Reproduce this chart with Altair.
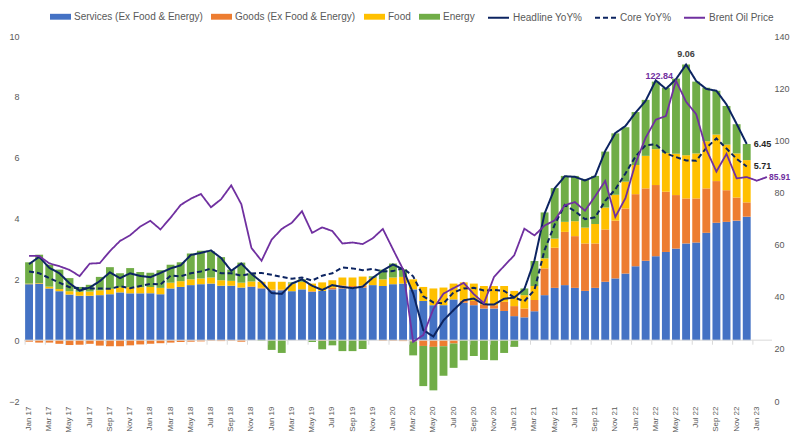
import altair as alt
import pandas as pd

mon = ["Jan", "Feb", "Mar", "Apr", "May", "Jun", "Jul", "Aug", "Sep", "Oct", "Nov", "Dec"]
months = [f"{m} {y}" for y in range(17, 24) for m in mon][:74]   # Jan 17 .. Feb 23
tick_months = months[::2]

components = ["Services (Ex Food & Energy)", "Goods (Ex Food & Energy)", "Food", "Energy"]
comp_colors = ["#4472C4", "#ED7D31", "#FFC000", "#70AD47"]

services = [
    1.84, 1.86, 1.70, 1.61, 1.50, 1.46, 1.46, 1.48, 1.51, 1.57, 1.54, 1.54,
    1.54, 1.51, 1.70, 1.75, 1.81, 1.84, 1.86, 1.79, 1.79, 1.73, 1.75, 1.70,
    1.64, 1.64, 1.61, 1.67, 1.59, 1.62, 1.67, 1.70, 1.70, 1.73, 1.81, 1.78,
    1.84, 1.86, 1.67, 1.29, 1.15, 1.15, 1.34, 1.23, 1.15, 1.04, 1.04, 0.96,
    0.79, 0.75, 0.95, 1.48, 1.72, 1.81, 1.72, 1.62, 1.72, 1.92, 2.03, 2.19,
    2.43, 2.61, 2.76, 2.90, 3.01, 3.18, 3.21, 3.53, 3.86, 3.89, 3.93, 4.06]
goods = [
    -0.05, -0.08, -0.08, -0.12, -0.16, -0.15, -0.12, -0.18, -0.20, -0.20, -0.17, -0.14,
    -0.12, -0.10, -0.08, -0.06, -0.05, -0.04, -0.02, -0.03, -0.02, -0.05, 0.02, 0.02,
    0.02, 0.02, 0.00, 0.00, 0.02, -0.02, 0.05, 0.10, 0.08, 0.06, 0.00, -0.02,
    -0.02, -0.03, -0.04, -0.19, -0.22, -0.20, -0.11, 0.07, 0.14, 0.14, 0.11, 0.30,
    0.33, 0.29, 0.37, 0.88, 1.32, 1.75, 1.70, 1.56, 1.46, 1.72, 1.90, 2.14,
    2.37, 2.38, 2.34, 1.98, 1.76, 1.48, 1.45, 1.46, 1.37, 1.04, 0.76, 0.47]
food = [
    0.02, 0.02, 0.06, 0.07, 0.11, 0.13, 0.14, 0.16, 0.18, 0.17, 0.20, 0.20,
    0.21, 0.21, 0.19, 0.19, 0.19, 0.19, 0.20, 0.18, 0.16, 0.16, 0.16, 0.20,
    0.26, 0.26, 0.25, 0.25, 0.25, 0.28, 0.25, 0.26, 0.28, 0.30, 0.24, 0.22,
    0.22, 0.22, 0.33, 0.46, 0.55, 0.58, 0.52, 0.60, 0.57, 0.60, 0.63, 0.52,
    0.50, 0.44, 0.46, 0.33, 0.30, 0.33, 0.49, 0.52, 0.64, 0.72, 0.85, 0.88,
    0.96, 1.07, 1.18, 1.27, 1.36, 1.42, 1.48, 1.55, 1.53, 1.50, 1.45, 1.39]
energy = [
    0.70, 0.93, 0.72, 0.64, 0.43, 0.16, 0.22, 0.44, 0.71, 0.46, 0.63, 0.50,
    0.47, 0.58, 0.59, 0.62, 0.85, 0.91, 0.86, 0.76, 0.37, 0.66, 0.27, -0.02,
    -0.32, -0.42, 0.04, 0.08, -0.06, -0.28, -0.17, -0.36, -0.36, -0.29, 0.05, 0.32,
    0.46, 0.25, -0.46, -1.32, -1.43, -0.97, -0.80, -0.66, -0.52, -0.65, -0.66, -0.42,
    -0.22, 0.22, 0.82, 1.51, 1.66, 1.51, 1.49, 1.60, 1.58, 1.84, 2.02, 1.79,
    1.74, 1.84, 2.22, 2.15, 2.47, 2.98, 2.36, 1.76, 1.44, 1.27, 0.96, 0.53]
headline = [
    2.50, 2.74, 2.38, 2.20, 1.87, 1.63, 1.73, 1.94, 2.23, 2.04, 2.20, 2.11,
    2.07, 2.21, 2.36, 2.46, 2.80, 2.87, 2.95, 2.70, 2.28, 2.52, 2.18, 1.91,
    1.55, 1.52, 1.86, 2.00, 1.79, 1.65, 1.81, 1.75, 1.71, 1.76, 2.05, 2.29,
    2.49, 2.33, 1.54, 0.33, 0.12, 0.65, 0.99, 1.31, 1.37, 1.18, 1.17, 1.36,
    1.40, 1.68, 2.62, 4.16, 4.99, 5.39, 5.37, 5.25, 5.39, 6.22, 6.81, 7.04,
    7.48, 7.87, 8.54, 8.26, 8.58, 9.06, 8.52, 8.26, 8.20, 7.75, 7.11, 6.45]
core = [
    2.26, 2.20, 2.04, 1.89, 1.74, 1.71, 1.70, 1.70, 1.69, 1.77, 1.71, 1.78,
    1.85, 1.83, 2.12, 2.10, 2.20, 2.26, 2.35, 2.20, 2.20, 2.12, 2.19, 2.21,
    2.15, 2.08, 2.02, 2.06, 1.96, 2.12, 2.20, 2.39, 2.36, 2.30, 2.34, 2.26,
    2.27, 2.37, 2.10, 1.44, 1.24, 1.21, 1.57, 1.70, 1.72, 1.63, 1.65, 1.62,
    1.40, 1.28, 1.65, 2.96, 3.80, 4.45, 4.24, 3.98, 4.04, 4.58, 4.96, 5.48,
    6.04, 6.41, 6.44, 6.14, 6.02, 5.91, 5.90, 6.32, 6.63, 6.30, 5.96, 5.71]
brent = [
    55.7, 55.6, 52.8, 51.7, 50.3, 47.9, 52.7, 52.9, 57.5, 61.4, 63.6, 66.9,
    69.1, 65.8, 70.3, 75.2, 77.6, 79.4, 74.3, 77.4, 82.7, 75.5, 58.7, 53.8,
    61.9, 66.0, 68.4, 72.8, 64.5, 66.6, 65.2, 60.4, 60.8, 60.2, 62.4, 66.0,
    58.2, 50.5, 22.7, 25.3, 35.3, 41.2, 43.3, 45.3, 41.0, 37.5, 47.6, 51.8,
    55.9, 66.1, 63.5, 67.3, 69.3, 75.1, 76.3, 73.0, 78.5, 84.4, 70.6, 77.8,
    91.2, 101.0, 107.9, 109.3, 122.84, 114.8, 110.0, 96.5, 88.0, 94.8, 85.4, 85.9,
    84.5, 85.91]

line_series = ["Headline YoY%", "Core YoY%", "Brent Oil Price"]
line_colors = ["#0C2461", "#0C2461", "#7030A0"]

rows = []
for k, (name, vals) in enumerate(zip(components, [services, goods, food, energy])):
    for i, v in enumerate(vals):
        rows.append({"month": months[i], "component": name, "ord": k, "value": v})
bar_df = pd.DataFrame(rows)

line_df = pd.DataFrame(
    [{"month": months[i], "series": line_series[0], "value": v} for i, v in enumerate(headline)]
    + [{"month": months[i], "series": line_series[1], "value": v} for i, v in enumerate(core)])
brent_df = pd.DataFrame({"month": months[:len(brent)], "series": line_series[2], "value": brent})

FONT = "Liberation Sans"
GREY = "#595959"

x_scale = alt.Scale(type="band", domain=months, paddingInner=0.22, paddingOuter=0.11)
yl_scale = alt.Scale(domain=[-2, 10], nice=False, zero=False)
yr_scale = alt.Scale(domain=[0, 140], nice=False, zero=False)

x_axis = alt.Axis(values=tick_months, title=None, domain=False, ticks=False, grid=False,
                  labelAngle=270, labelFont=FONT, labelFontSize=8, labelColor=GREY,
                  labelPadding=5, labelOverlap=False)
# every layer carries the same x axis so the shared axis merges cleanly
Xa = alt.X("month:N", scale=x_scale, axis=x_axis)
YL = alt.Y("value:Q", scale=yl_scale, axis=None)
YR = alt.Y("value:Q", scale=yr_scale, axis=None)

bar_legend = alt.Legend(orient="none", legendX=26, legendY=-30, direction="horizontal",
                        title=None, symbolType="M-1,-0.28H1V0.28H-1Z", symbolSize=441,
                        symbolStrokeWidth=0, labelFont=FONT, labelFontSize=10,
                        labelColor=GREY, labelOffset=3, columnPadding=8, padding=0)
line_legend = alt.Legend(orient="none", legendX=463, legendY=-30, direction="horizontal",
                         title=None, symbolType="stroke", symbolSize=441,
                         symbolStrokeWidth=2, labelFont=FONT, labelFontSize=10,
                         labelColor=GREY, labelOffset=3, columnPadding=8, padding=0)
stroke_enc = alt.Stroke("series:N", scale=alt.Scale(domain=line_series, range=line_colors),
                        legend=line_legend)
dash_enc = alt.StrokeDash("series:N",
                          scale=alt.Scale(domain=line_series, range=[[1, 0], [5, 3], [1, 0]]),
                          legend=line_legend)

bars = alt.Chart(bar_df).mark_bar().encode(
    x=Xa,
    y=alt.Y("value:Q", stack="zero", scale=yl_scale,
            axis=alt.Axis(values=[-2, 0, 2, 4, 6, 8, 10], title=None, grid=False,
                          domain=False, ticks=False, labelFont=FONT, labelFontSize=9,
                          labelColor=GREY, labelPadding=5)),
    fill=alt.Fill("component:N", scale=alt.Scale(domain=components, range=comp_colors),
                  legend=bar_legend),
    order=alt.Order("ord:Q", sort="ascending"),
)

zero_rule = alt.Chart(pd.DataFrame({"zero": [0]})).mark_rule(
    color="#D9D9D9", strokeWidth=1).encode(
    y=alt.Y("zero:Q", scale=yl_scale, axis=None))

ticks = alt.Chart(pd.DataFrame({"month": tick_months})).mark_rule(
    color="#D9D9D9", strokeWidth=1).encode(
    x=alt.X("month:N", scale=x_scale, bandPosition=0),
    y=alt.Y(datum=0, scale=yl_scale, axis=None),
    y2=alt.Y2(datum=-0.15))

lines = alt.Chart(line_df).mark_line(strokeWidth=2).encode(
    x=Xa, y=YL, stroke=stroke_enc, strokeDash=dash_enc)

peak_label = alt.Chart(line_df).transform_filter(
    "datum.series == 'Headline YoY%' && datum.month == 'Jun 22'").mark_text(
    dy=-11, font=FONT, fontSize=9, fontWeight="bold", color="#404040").encode(
    x=Xa, y=YL, text=alt.Text("value:Q", format=".2f"))

end_labels = alt.Chart(line_df).transform_filter(
    "datum.month == 'Dec 22'").mark_text(
    align="left", dx=7, font=FONT, fontSize=9, fontWeight="bold", color="#262626").encode(
    x=Xa, y=YL, text=alt.Text("value:Q", format=".2f"))

brent_line = alt.Chart(brent_df).mark_line(strokeWidth=1.8).encode(
    x=Xa,
    y=alt.Y("value:Q", scale=yr_scale,
            axis=alt.Axis(orient="right", values=[0, 20, 40, 60, 80, 100, 120, 140],
                          title=None, grid=False, domain=False, ticks=False,
                          labelFont=FONT, labelFontSize=9, labelColor=GREY,
                          labelPadding=2)),
    stroke=stroke_enc, strokeDash=dash_enc)

brent_peak = alt.Chart(brent_df).transform_filter("datum.month == 'May 22'").mark_text(
    align="right", dx=-3, dy=-5, font=FONT, fontSize=9, fontWeight="bold",
    color="#7030A0").encode(
    x=Xa, y=YR, text=alt.Text("value:Q", format=".2f"))

brent_end = alt.Chart(brent_df).transform_filter("datum.month == 'Feb 23'").mark_text(
    align="left", dx=2, font=FONT, fontSize=8.5, fontWeight="bold",
    color="#7030A0").encode(
    x=Xa, y=YR, text=alt.Text("value:Q", format=".2f"))

chart = alt.layer(
    bars, zero_rule, ticks, lines, peak_label, end_labels,
    brent_line, brent_peak, brent_end,
).resolve_scale(y="independent").properties(
    width=748, height=365,
    padding={"left": 16, "top": 28, "right": 20, "bottom": 31},
    autosize=alt.AutoSizeParams(type="none"),
    background="white",
).configure_view(stroke=None)

chart.save("out.html", embed_options={"renderer": "svg", "actions": False})
